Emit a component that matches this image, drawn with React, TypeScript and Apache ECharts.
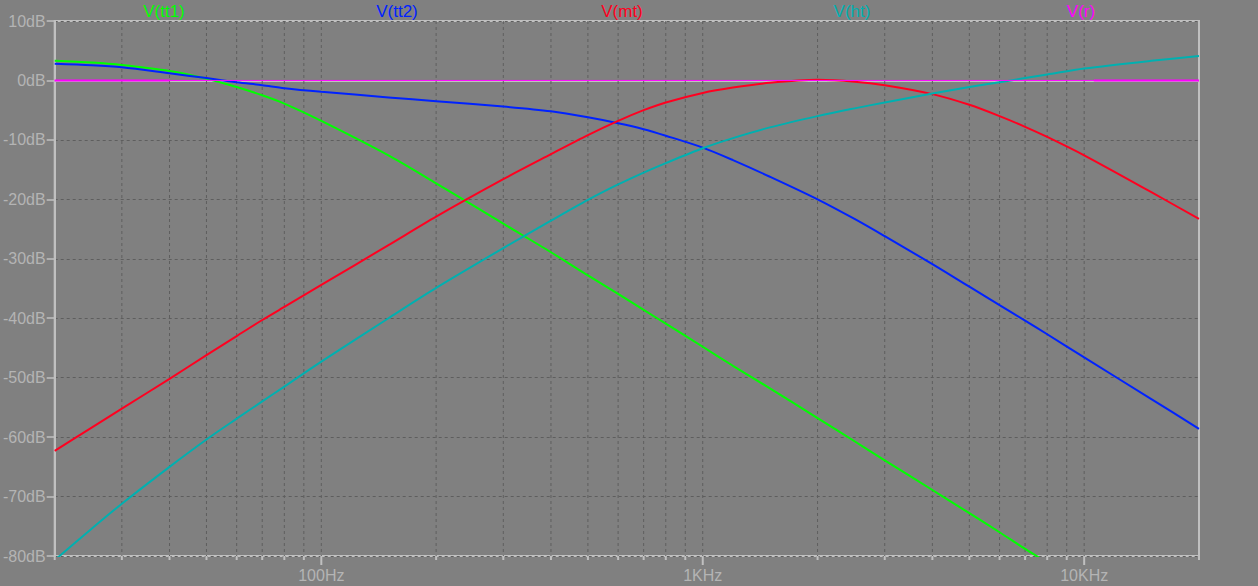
import React, { useEffect, useRef } from "react";
import * as echarts from "echarts";

// Frequencies (Hz) at which the traces were read
const freqs = [20, 25, 30, 40, 50, 60, 70, 80, 100, 150, 200, 300, 400, 500, 600, 700, 800, 1000, 1200, 1500, 2000, 2500, 3000, 4000, 5000, 6000, 7000, 8000, 10000, 15000, 20000];
// Levels in dB
const vtt1 = [3.3, 3.0, 2.6, 1.6, 0.3, -1.1, -2.5, -3.9, -6.8, -12.6, -17.3, -24.1, -28.9, -32.8, -35.9, -38.6, -40.9, -44.8, -48.0, -51.8, -56.8, -60.7, -63.9, -68.9, -72.8, -76.0, -78.8, -81.1, -85.0, -92.0, -97.0];
const vtt2 = [2.8, 2.55, 2.2, 1.2, 0.4, -0.3, -0.8, -1.3, -1.9, -2.85, -3.5, -4.4, -5.2, -6.2, -7.2, -8.2, -9.3, -11.3, -13.4, -16.2, -20.0, -23.3, -26.2, -30.9, -34.7, -37.8, -40.4, -42.7, -46.6, -53.6, -58.6];
const vmt = [-62.3, -58.4, -55.2, -50.2, -46.2, -43.0, -40.3, -38.1, -34.4, -27.7, -22.9, -16.6, -12.4, -9.2, -6.8, -5.0, -3.7, -2.1, -1.2, -0.4, 0.1, -0.2, -0.8, -2.3, -4.1, -6.0, -7.8, -9.5, -12.6, -18.8, -23.3];
const vht = [-80.7, -75.4, -71.2, -65.0, -60.4, -56.9, -54.0, -51.5, -47.3, -40.0, -34.9, -28.2, -23.6, -20.1, -17.5, -15.5, -13.9, -11.4, -9.7, -7.9, -6.0, -4.7, -3.7, -2.2, -1.1, -0.3, 0.4, 1.0, 2.0, 3.3, 4.1];
const vrLevel = 0;
// V(r) drawn bold only on these frequency spans (null = gap)
const vrBoldFreqs: (number | null)[] = [20, 40, null, 10600, 20000];

// Axis ticks
const gridFreqs = [20, 30, 40, 50, 60, 70, 80, 90, 100, 200, 300, 400, 500, 600, 700, 800, 900, 1000, 2000, 3000, 4000, 5000, 6000, 7000, 8000, 9000, 10000, 20000];
const majorFreqs = [100, 1000, 10000];
const xTickLabels: Record<number, string> = { 100: "100Hz", 1000: "1KHz", 10000: "10KHz" };
const yMin = -80;
const yMax = 10;
const yStep = 10;

const traceNames = ["V(tt1)", "V(tt2)", "V(mt)", "V(ht)", "V(r)"];
const traceColors = ["#00ff00", "#0022ff", "#ff0020", "#00b0b0", "#ff00ff"];
const titleX = [164, 397, 622, 852, 1081];

const FONT = '"Liberation Sans", Arial, sans-serif';
const AXIS = "#c0c0c0";
const LABEL = "#b4b4b4";
const GRID = "#5e5e5e";

export default function App() {
  const ref = useRef<HTMLDivElement>(null);
  useEffect(() => {
    document.body.style.margin = "0";
    const chart = echarts.init(ref.current!, null, { renderer: "svg" });
    const mk = (vals: number[]) => freqs.map((f, i) => [f, vals[i]]);
    const lineSeries = (name: string, vals: number[], color: string) => ({
      name,
      type: "line",
      data: mk(vals),
      showSymbol: false,
      symbol: "none",
      smooth: 0.3,
      clip: true,
      z: 3,
      lineStyle: { color, width: 2 },
    });
    const option: any = {
      animation: false,
      backgroundColor: "#808080",
      grid: {
        left: 51,
        right: 59,
        top: 21,
        bottom: 30,
        show: true,
        borderColor: AXIS,
        borderWidth: 2,
        backgroundColor: "transparent",
      },
      xAxis: {
        type: "log",
        logBase: 10,
        min: 20,
        max: 20000,
        axisLine: { show: true, lineStyle: { color: AXIS, width: 2 } },
        axisTick: { show: false },
        splitLine: { show: false },
        axisLabel: {
          color: LABEL,
          fontSize: 16,
          fontFamily: FONT,
          margin: 11,
          showMinLabel: false,
          showMaxLabel: false,
          formatter: (v: number) => xTickLabels[Math.round(v)] || "",
        },
      },
      yAxis: {
        type: "value",
        min: yMin,
        max: yMax,
        interval: yStep,
        axisLine: { show: true, lineStyle: { color: AXIS, width: 2 } },
        axisTick: { show: true, length: 8, lineStyle: { color: AXIS, width: 1.5 } },
        splitLine: { show: true, lineStyle: { color: GRID, width: 1, type: [3, 3] } },
        axisLabel: {
          color: LABEL,
          fontSize: 16,
          fontFamily: FONT,
          margin: 9,
          formatter: (v: number) => `${v}dB`,
        },
      },
      graphic: traceNames.map((n, i) => ({
        type: "text",
        x: titleX[i],
        y: 11,
        style: {
          text: n,
          fill: traceColors[i],
          font: `17px ${FONT}`,
          textAlign: "center",
          textVerticalAlign: "middle",
        },
      })),
      series: [
        {
          type: "custom",
          name: "grid",
          clip: false,
          silent: true,
          z: 1,
          data: gridFreqs.map((f) => [f, yMin]),
          renderItem: (params: any, api: any) => {
            const f = api.value(0);
            const top = api.coord([f, yMax]);
            const bot = api.coord([f, yMin]);
            const children: any[] = [];
            if (f !== 20 && f !== 20000) {
              children.push({
                type: "line",
                shape: { x1: top[0], y1: top[1], x2: bot[0], y2: bot[1] },
                style: { stroke: GRID, lineWidth: 1, lineDash: [3, 3] },
              });
            }
            const len = majorFreqs.includes(f) ? 9 : 4;
            children.push({
              type: "line",
              shape: { x1: bot[0], y1: bot[1], x2: bot[0], y2: bot[1] + len },
              style: { stroke: AXIS, lineWidth: 2 },
            });
            return { type: "group", children };
          },
        },
        lineSeries(traceNames[0], vtt1, traceColors[0]),
        lineSeries(traceNames[1], vtt2, traceColors[1]),
        lineSeries(traceNames[2], vmt, traceColors[2]),
        lineSeries(traceNames[3], vht, traceColors[3]),
        {
          name: traceNames[4],
          type: "line",
          data: [[20, vrLevel], [20000, vrLevel]],
          showSymbol: false,
          symbol: "none",
          z: 4,
          lineStyle: { color: traceColors[4], width: 1 },
        },
        {
          name: traceNames[4] + " bold",
          type: "line",
          data: vrBoldFreqs.map((f) => (f === null ? [1000, "-"] : [f, vrLevel])),
          connectNulls: false,
          showSymbol: false,
          symbol: "none",
          z: 4,
          lineStyle: { color: traceColors[4], width: 2 },
        },
      ],
    };
    chart.setOption(option);
    return () => chart.dispose();
  }, []);
  return <div ref={ref} style={{ width: 1258, height: 586 }} />;
}
